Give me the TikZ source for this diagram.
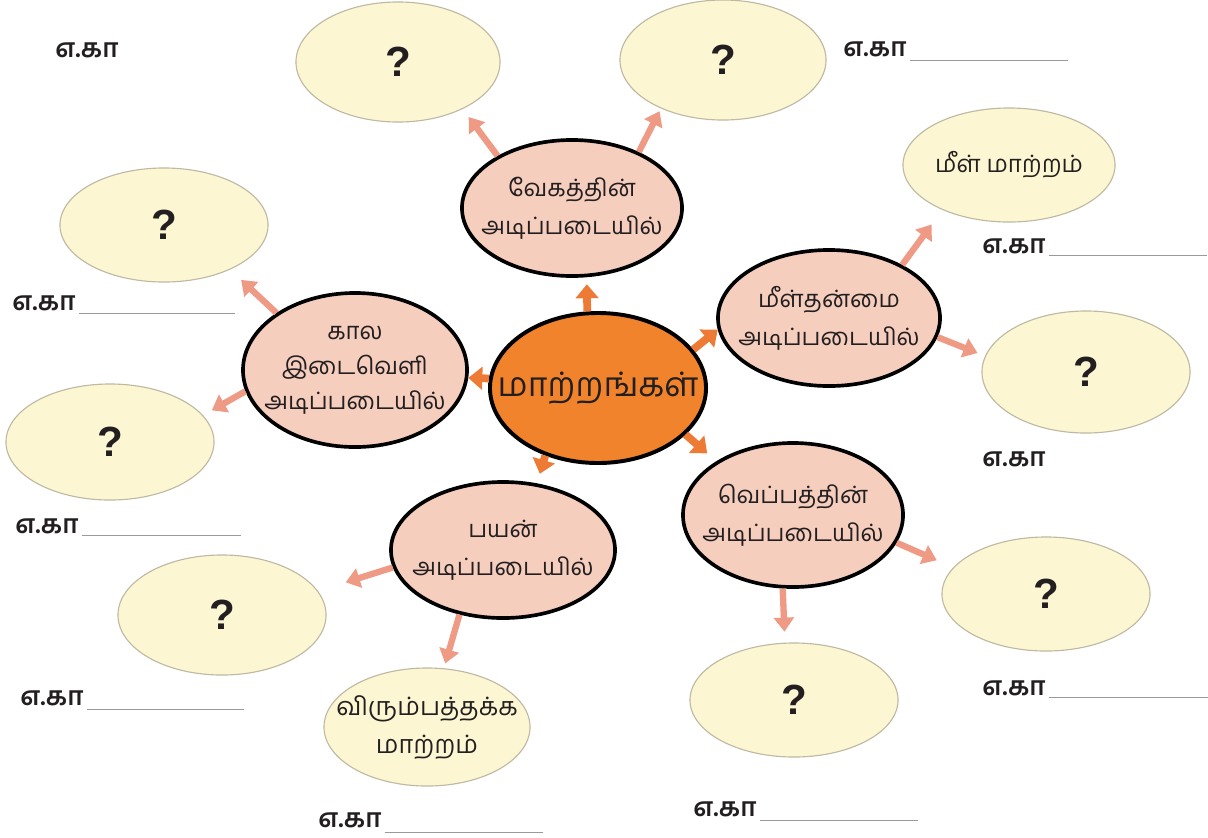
\documentclass[tikz,border=0pt]{standalone}
\usepackage{fontspec}
\setmainfont{Liberation Sans}
\newfontfamily\tam[Script=Tamil]{Hind Madurai}
\usetikzlibrary{shapes.geometric,arrows.meta}
\definecolor{corange}{HTML}{F0832B}
\definecolor{cpink}{HTML}{F6CEBE}
\definecolor{cyel}{HTML}{FCF6D2}
\definecolor{cyelb}{HTML}{BEB9A2}
\definecolor{carrc}{HTML}{EE7B35}
\definecolor{carrk}{HTML}{EE9A84}
\definecolor{cline}{HTML}{9A9A9A}
\definecolor{ctext}{HTML}{231F20}
\begin{document}
\begin{tikzpicture}[x=0.025cm,y=-0.025cm,
  ell/.style 2 args={ellipse,inner xsep=-60pt,inner ysep=-40pt,minimum width=#1*0.05cm,minimum height=#2*0.05cm,align=center,text=ctext},
  mainell/.style={fill=corange,draw=black,line width=2.8pt,font=\tam\fontsize{24}{30}\selectfont},
  catell/.style={fill=cpink,draw=black,line width=2.6pt,font=\tam\fontsize{17}{27}\selectfont},
  ansell/.style={fill=cyel,draw=cyelb,line width=0.8pt,font=\tam\fontsize{18}{27}\selectfont},
  qmark/.style={font=\bfseries\fontsize{30}{32}\selectfont},
  carr/.style={draw=carrc,line width=5.5pt,-{Triangle[width=16pt,length=10pt]}},
  karr/.style={draw=carrk,line width=4.5pt,-{Triangle[width=14pt,length=10pt]}},
  eg/.style={anchor=base west,inner sep=0pt,text=ctext,font=\tam\bfseries\fontsize{18.5}{20}\selectfont},
  blank/.style={draw=cline,line width=0.6pt}
]
\useasboundingbox (0,0) rectangle (1208,837);

% main and category ellipses
\node[mainell,ell={108}{75}] (c) at (598,388) {மாற்றங்கள்};
\node[catell,ell={110}{68}] (t) at (572,208) {வேகத்தின்\\அடிப்படையில்};
\node[catell,ell={111}{68}] (m) at (829,318) {மீள்தன்மை\\அடிப்படையில்};
\node[catell,ell={110}{72}] (h) at (793,515) {வெப்பத்தின்\\அடிப்படையில்};
\node[catell,ell={112}{68}] (u) at (503,550) {பயன்\\அடிப்படையில்};
\node[catell,ell={112}{77},font=\tam\fontsize{17}{25}\selectfont] (k) at (355,370) {கால\\இடைவெளி\\அடிப்படையில்};

% answer ellipses
\node[ansell,ell={102}{60},qmark] (a1) at (398,62) {?};
\node[ansell,ell={103}{60},qmark] (a2) at (723,60) {?};
\node[ansell,ell={106}{57},font=\tam\fontsize{17}{27}\selectfont] (a3) at (1009,165) {மீள் மாற்றம்};
\node[ansell,ell={104}{61},qmark] (a4) at (1086,372) {?};
\node[ansell,ell={104}{57},qmark] (a5) at (1046,594) {?};
\node[ansell,ell={104}{57},qmark] (a6) at (794,700) {?};
\node[ansell,ell={103}{59}] (a7) at (427,727) {விரும்பத்தக்க\\மாற்றம்};
\node[ansell,ell={104}{60},qmark] (a8) at (222,615) {?};
\node[ansell,ell={104}{58},qmark] (a9) at (110,442) {?};
\node[ansell,ell={104}{57},qmark] (a10) at (164,225) {?};

% arrows from the centre
\draw[carr,shorten >=7*0.025cm] (c.98) -- (t.282);
\draw[carr] (c.22) -- (m.186);
\draw[carr] (c.175) -- (k.356);
\draw[carr,shorten >=12*0.025cm] (c.332) -- (h.145);
\draw[carr,shorten >=10*0.025cm] (c.232) -- (u.63);

% arrows from the categories
\draw[karr,shorten >=10*0.025cm] (t.145) -- (a1.324);
\draw[karr,shorten >=3*0.025cm] (t.40) -- (a2.218);
\draw[karr,shorten >=18*0.025cm] (m.36) -- (a3.214);
\draw[karr,shorten >=8*0.025cm] (m.350) -- (a4.171);
\draw[karr,shorten >=18*0.025cm] (h.345) -- (a5.164);
\draw[karr,shorten >=11*0.025cm] (h.262) -- (a6.99);
\draw[karr,shorten >=29*0.025cm] (u.189) -- (a8.14);
\draw[karr,shorten >=5*0.025cm] (u.236) -- (a7.74);
\draw[karr,shorten >=15*0.025cm] (k.144) -- (a10.326);
\draw[karr,shorten >=10*0.025cm] (k.191) -- (a9.16);

% example labels
\node[eg] (e1) at (55,57) {எ.கா};
\node[eg] (e2) at (843,56) {எ.கா};
\node[eg] (e3) at (982,253) {எ.கா};
\node[eg] (e4) at (982,466) {எ.கா};
\node[eg] (e5) at (12,310) {எ.கா};
\node[eg] (e6) at (15,533) {எ.கா};
\node[eg] (e7) at (20,705) {எ.கா};
\node[eg] (e8) at (318,827) {எ.கா};
\node[eg] (e9) at (693,816) {எ.கா};
\node[eg] (e10) at (982,695) {எ.கா};
\draw[blank] ([xshift=3*0.025cm,yshift=-4*0.025cm]e2.base east) -- ++(158,0);
\draw[blank] ([xshift=3*0.025cm,yshift=-2*0.025cm]e3.base east) -- ++(158,0);
\draw[blank] ([xshift=3*0.025cm,yshift=-3*0.025cm]e5.base east) -- ++(156,0);
\draw[blank] ([xshift=3*0.025cm,yshift=-2*0.025cm]e6.base east) -- ++(159,0);
\draw[blank] ([xshift=3*0.025cm,yshift=-4*0.025cm]e7.base east) -- ++(157,0);
\draw[blank] ([xshift=3*0.025cm,yshift=-5*0.025cm]e8.base east) -- ++(158,0);
\draw[blank] ([xshift=3*0.025cm,yshift=-4*0.025cm]e9.base east) -- ++(158,0);
\draw[blank] ([xshift=3*0.025cm,yshift=-2*0.025cm]e10.base east) -- ++(159,0);
\end{tikzpicture}
\end{document}
